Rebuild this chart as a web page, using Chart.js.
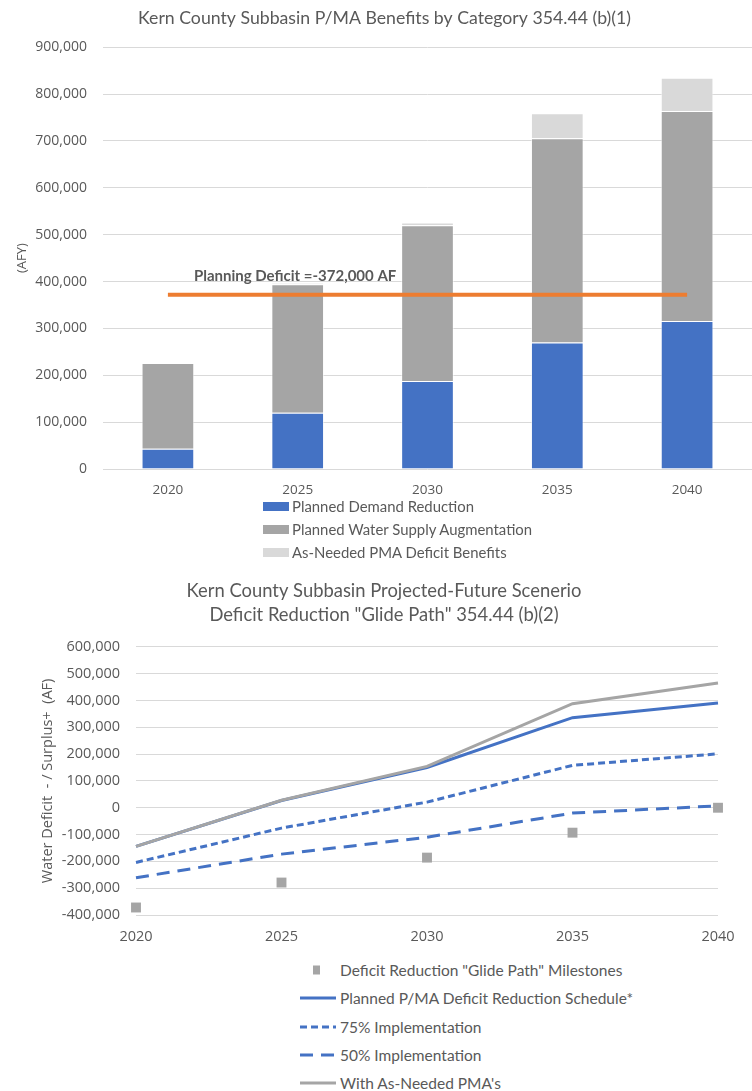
<!DOCTYPE html>
<html>
<head>
<meta charset="utf-8">
<title>Kern County Subbasin P/MA</title>
<script src="https://cdn.jsdelivr.net/npm/chart.js@4.4.1/dist/chart.umd.min.js"></script>
<style>
body{margin:0;background:#fff;}
#page{position:relative;width:752px;height:1091px;overflow:hidden;font-family:Lato,sans-serif;color:#595959;}
canvas{position:absolute;left:0;}
#chart1{top:0;}
#chart2{top:570px;}
.legend{position:absolute;}
.legend .row{position:absolute;left:0;white-space:nowrap;height:20px;line-height:20px;}
.legend .box{position:absolute;left:0;top:6px;width:26px;height:9px;}
.legend svg{position:absolute;left:0;top:0;}
#legend1{left:263px;top:496px;font-size:14.9px;}
#legend1 .row{padding-left:29px;}
#legend2{left:298px;top:960px;font-size:15.5px;}
#legend2 .row{padding-left:42px;}
</style>
</head>
<body>
<div id="page">
  <canvas id="chart1" width="752" height="500"></canvas>
  <div id="legend1" class="legend"></div>
  <canvas id="chart2" width="752" height="380"></canvas>
  <div id="legend2" class="legend"></div>
</div>
<script>
// chart 1 - benefits by category (AFY)
const years = ['2020', '2025', '2030', '2035', '2040'];
const demandReduction = [43000, 120000, 188000, 270000, 316000];
const supplyAugmentation = [183000, 274000, 332000, 436000, 448000];
const asNeededBenefits = [0, 3000, 6000, 53000, 71000];
const planningDeficit = [372000, 372000, 372000, 372000, 372000];

// chart 2 - glide path (AF)
const milestones = [-372000, -279000, -186000, -93000, 0];
const plannedSchedule = [-144000, 27000, 150000, 336000, 391000];
const implementation75 = [-204000, -76000, 21000, 158000, 201000];
const implementation50 = [-261000, -173000, -110000, -20000, 7000];
const withAsNeeded = [-144000, 28000, 154000, 388000, 465000];

const BLUE = '#4472C4';
const GRAY = '#A5A5A5';
const LIGHT = '#D9D9D9';
const ORANGE = '#ED7D31';
const TEXT = '#595959';
const GRID = '#D9D9D9';

function fmt(v){
    return Number(v).toLocaleString('en-US');
}

const deficitLabel = {
    id: 'deficitLabel',
    afterDatasetsDraw(chart){
        const {ctx, scales} = chart;
        const x = scales.x.getPixelForValue(0) + 26;
        const y = scales.y.getPixelForValue(planningDeficit[0]) - 19;
        ctx.save();
        ctx.font = 'bold 15px Lato';
        ctx.fillStyle = TEXT;
        ctx.textBaseline = 'middle';
        ctx.fillText('Planning Deficit =-372,000 AF', x, y);
        ctx.restore();
    }
};

const chart1 = new Chart(document.getElementById('chart1'), {
    type: 'bar',
    data: {
        labels: years,
        datasets: [
            {
                type: 'line',
                label: 'Planning Deficit',
                data: planningDeficit,
                borderColor: ORANGE,
                borderWidth: 4,
                pointRadius: 0,
                inLegend: false
            },
            {
                label: 'Planned Demand Reduction',
                data: demandReduction,
                backgroundColor: BLUE,
                borderColor: 'rgba(255,255,255,0.55)',
                borderWidth: 1
            },
            {
                label: 'Planned Water Supply Augmentation',
                data: supplyAugmentation,
                backgroundColor: GRAY,
                borderColor: 'rgba(255,255,255,0.55)',
                borderWidth: 1
            },
            {
                label: 'As-Needed PMA Deficit Benefits',
                data: asNeededBenefits,
                backgroundColor: LIGHT,
                borderColor: 'rgba(255,255,255,0.55)',
                borderWidth: 1
            }
        ]
    },
    options: {
        responsive: false,
        animation: false,
        devicePixelRatio: 1,
        layout: {padding: {left: 17, right: 0, top: 0, bottom: 0}},
        datasets: {bar: {categoryPercentage: 1, barPercentage: 0.406}},
        plugins: {
            legend: {display: false},
            tooltip: {enabled: false},
            title: {
                display: true,
                text: 'Kern County Subbasin P/MA Benefits by Category 354.44 (b)(1)',
                color: TEXT,
                font: {family: 'Lato', size: 17.7, weight: 'normal'},
                padding: {top: 8, bottom: 18}
            }
        },
        scales: {
            x: {
                stacked: true,
                grid: {display: false, drawTicks: false},
                border: {display: false},
                ticks: {color: TEXT, font: {family: 'Open Sans', size: 13.5}, padding: 13},
                afterFit: s => { s.height = 31; }
            },
            y: {
                stacked: true,
                min: 0,
                max: 900000,
                border: {display: false},
                grid: {color: GRID, drawTicks: false},
                ticks: {stepSize: 100000, color: TEXT, font: {family: 'Open Sans', size: 14}, padding: 16, callback: fmt},
                title: {display: true, text: '(AFY)', color: TEXT, font: {family: 'Open Sans', size: 13}, padding: {top: -3, bottom: 0}},
                afterFit: s => { s.width = 86; }
            }
        }
    },
    plugins: [deficitLabel]
});

const chart2 = new Chart(document.getElementById('chart2'), {
    type: 'line',
    data: {
        labels: years,
        datasets: [
            {
                label: 'Deficit Reduction "Glide Path" Milestones',
                data: milestones,
                showLine: false,
                pointStyle: 'rect',
                pointRadius: 7,
                pointBackgroundColor: GRAY,
                pointBorderWidth: 0,
                backgroundColor: GRAY,
                borderColor: GRAY,
                clip: false,
                order: 0
            },
            {
                label: 'Planned P/MA Deficit Reduction Schedule*',
                data: plannedSchedule,
                borderColor: BLUE,
                borderWidth: 3,
                pointRadius: 0,
                order: 2
            },
            {
                label: '75% Implementation',
                data: implementation75,
                borderColor: BLUE,
                borderWidth: 3,
                borderDash: [7, 4],
                pointRadius: 0,
                order: 3
            },
            {
                label: '50% Implementation',
                data: implementation50,
                borderColor: BLUE,
                borderWidth: 3,
                borderDash: [13, 8],
                pointRadius: 0,
                order: 4
            },
            {
                label: "With As-Needed PMA's",
                data: withAsNeeded,
                borderColor: GRAY,
                borderWidth: 3,
                pointRadius: 0,
                order: 1
            }
        ]
    },
    options: {
        responsive: false,
        animation: false,
        devicePixelRatio: 1,
        layout: {padding: {left: 50, right: 34, top: 0, bottom: 0}},
        plugins: {
            legend: {display: false},
            tooltip: {enabled: false},
            title: {
                display: true,
                text: ['Kern County Subbasin Projected-Future Scenerio', 'Deficit Reduction "Glide Path" 354.44 (b)(2)'],
                color: TEXT,
                font: {family: 'Lato', size: 18.4, weight: 'normal', lineHeight: 1.3},
                padding: {top: 9.5, bottom: 19.5}
            }
        },
        scales: {
            x: {
                offset: false,
                grid: {display: false, drawTicks: false},
                border: {display: false},
                ticks: {color: TEXT, font: {family: 'Open Sans', size: 14.5}, padding: 13},
                afterFit: s => { s.height = 35; }
            },
            y: {
                min: -400000,
                max: 600000,
                border: {display: false},
                grid: {color: GRID, drawTicks: false},
                ticks: {stepSize: 100000, color: TEXT, font: {family: 'Open Sans', size: 14.5}, padding: 16, callback: fmt},
                title: {display: true, text: 'Water Deficit  - / Surplus+  (AF)', color: TEXT, font: {family: 'Open Sans', size: 14.5}, padding: {top: -10.7, bottom: 0}},
                afterFit: s => { s.width = 86; }
            }
        }
    }
});

// html legends, built from the datasets
function buildBarLegend(chart, el){
    chart.data.datasets.filter(d => d.inLegend !== false).forEach((d, i) => {
        const row = document.createElement('div');
        row.className = 'row';
        row.style.top = (i * 23) + 'px';
        row.innerHTML = '<span class="box" style="background:' + d.backgroundColor + '"></span>';
        row.appendChild(document.createTextNode(d.label));
        el.appendChild(row);
    });
}

function buildLineLegend(chart, el){
    chart.data.datasets.forEach((d, i) => {
        const row = document.createElement('div');
        row.className = 'row';
        row.style.top = Math.round(i * 28.3) + 'px';
        let svg;
        if (d.showLine === false){
            svg = '<svg width="38" height="20"><rect x="15" y="5.5" width="7" height="9" fill="' + d.backgroundColor + '"/></svg>';
        } else {
            const dash = d.borderDash ? ' stroke-dasharray="' + d.borderDash.join(',') + '"' : '';
            svg = '<svg width="38" height="20"><line x1="2" y1="10" x2="38" y2="10" stroke="' + d.borderColor + '" stroke-width="' + d.borderWidth + '"' + dash + '/></svg>';
        }
        row.innerHTML = svg;
        row.appendChild(document.createTextNode(d.label));
        el.appendChild(row);
    });
}

buildBarLegend(chart1, document.getElementById('legend1'));
buildLineLegend(chart2, document.getElementById('legend2'));
</script>
</body>
</html>
